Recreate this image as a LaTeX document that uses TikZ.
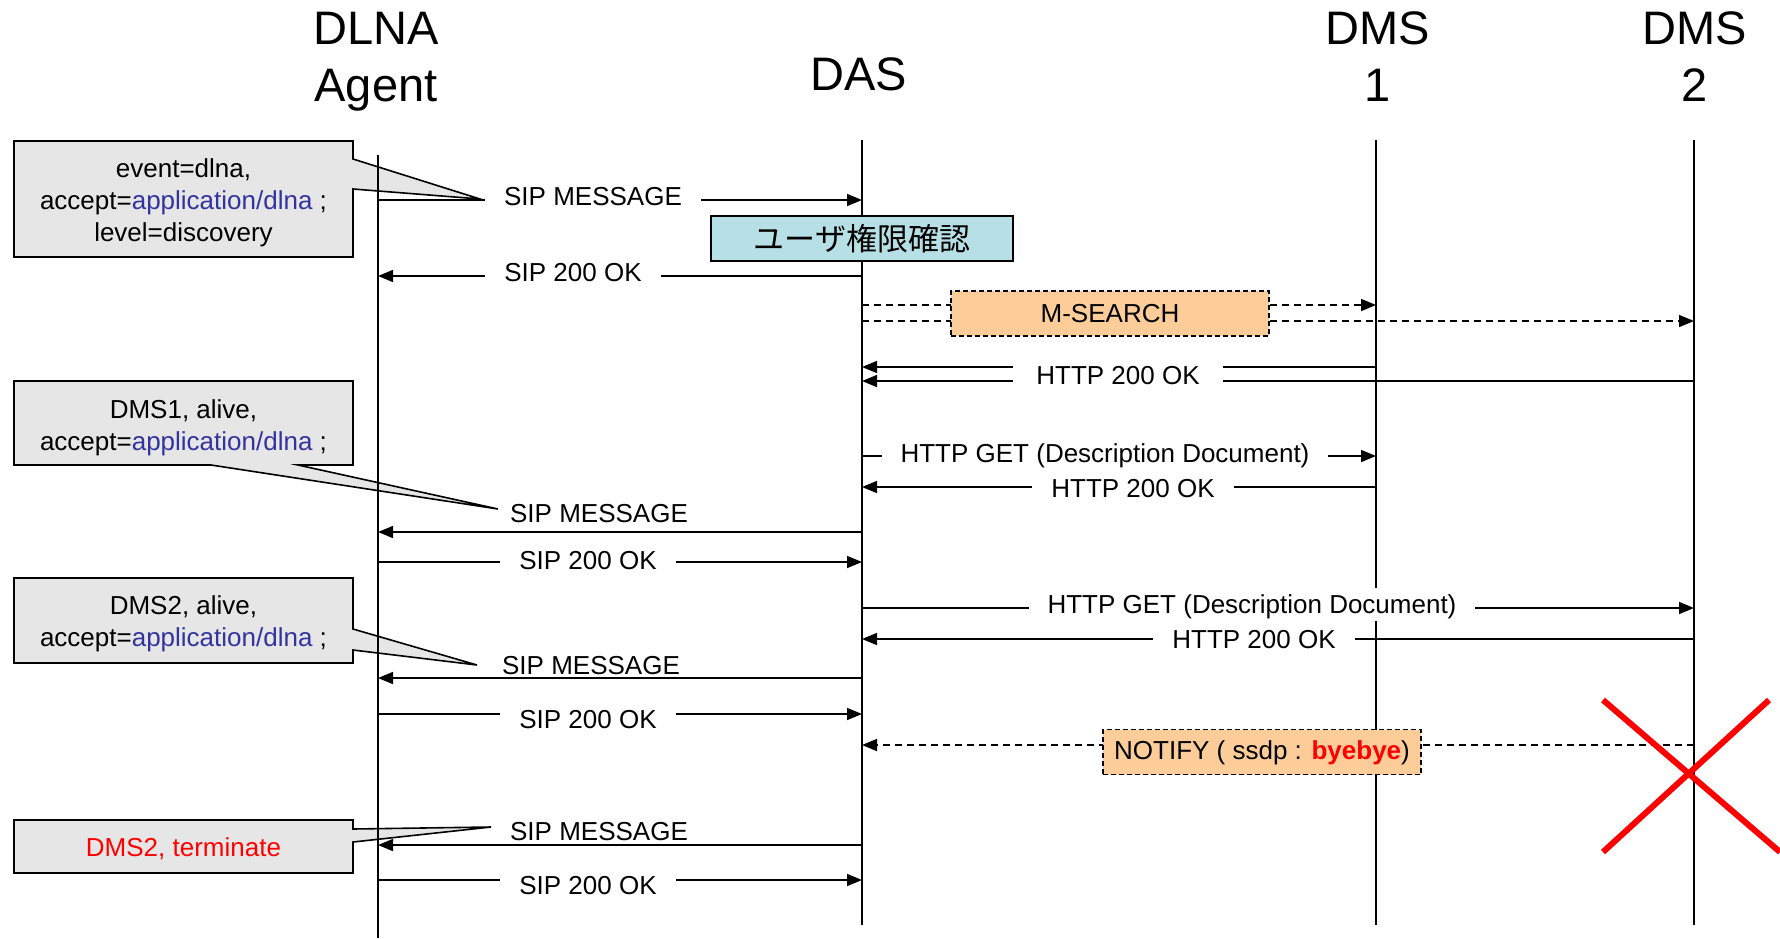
\documentclass[tikz,border=0pt]{standalone}
\usepackage{fontspec}
\setmainfont{Liberation Sans}
\newfontfamily\jpfont{Noto Sans CJK JP}
\usetikzlibrary{arrows.meta}
\definecolor{calloutgray}{RGB}{230,230,230}
\definecolor{appblue}{RGB}{51,51,160}
\definecolor{orangefill}{RGB}{252,204,153}
\definecolor{cyanfill}{RGB}{183,224,230}
\begin{document}
\begin{tikzpicture}[x=1pt,y=-1pt,
  lifeline/.style={line width=1.6pt},
  msg/.style={line width=1.6pt,-{Triangle[length=15pt,width=12pt]}},
  dmsg/.style={msg,dash pattern=on 7pt off 5pt},
  lbl/.style={font=\fontsize{26}{30}\selectfont,text height=19pt,text depth=0pt,inner xsep=19pt,inner ysep=7pt},
  wlbl/.style={lbl,fill=white},
  head/.style={font=\fontsize{47}{57}\selectfont,align=center},
  callout/.style={fill=calloutgray,draw=black,line width=1.6pt},
  ctext/.style={font=\fontsize{26}{32}\selectfont,align=center},
  notebox/.style={draw=black,line width=1.6pt,dash pattern=on 5pt off 3pt,fill=orangefill,minimum width=318pt,minimum height=45pt,font=\fontsize{26}{30}\selectfont},
]
\useasboundingbox (0,0) rectangle (1780,938);

% headers
\node[head] (hAgent) at (376,62) {DLNA\\Agent};
\node[head] (hDAS) at (859,74) {DAS};
\node[head] (hDMS1) at (1378,57) {DMS\\1};
\node[head] (hDMS2) at (1695,57) {DMS\\2};

% callouts
\draw[callout] (14,141) -- (353,141) -- (353,159) -- (480,199) -- (353,189) -- (353,257) -- (14,257) -- cycle;
\node[ctext] (c1) at (183.5,203) {event=dlna,\\accept=\textcolor{appblue}{application/dlna} ;\\level=discovery};
\draw[callout] (14,381) -- (353,381) -- (353,465) -- (298,465) -- (498,509) -- (211,465) -- (14,465) -- cycle;
\node[ctext] (c2) at (183.5,427.5) {DMS1, alive,\\accept=\textcolor{appblue}{application/dlna} ;};
\draw[callout] (14,578) -- (353,578) -- (353,629) -- (477,665) -- (353,650) -- (353,663) -- (14,663) -- cycle;
\node[ctext] (c3) at (183.5,624) {DMS2, alive,\\accept=\textcolor{appblue}{application/dlna} ;};
\draw[callout] (14,820) -- (353,820) -- (353,829) -- (491,827) -- (353,842) -- (353,873) -- (14,873) -- cycle;
\node[ctext,text=red] (c4) at (183.5,849) {DMS2, terminate};

% lifelines
\coordinate (aT) at (378,155); \coordinate (aB) at (378,938);
\coordinate (dT) at (862,140); \coordinate (dB) at (862,925);
\coordinate (s1T) at (1376,140); \coordinate (s1B) at (1376,925);
\coordinate (s2T) at (1694,140); \coordinate (s2B) at (1694,925);
\draw[lifeline] (aT) -- (aB);
\draw[lifeline] (dT) -- (dB);
\draw[lifeline] (s1T) -- (s1B);
\draw[lifeline] (s2T) -- (s2B);

% 1 SIP MESSAGE
\coordinate (y1) at (0,200);
\draw[msg] (aT |- y1) -- (dT |- y1);
\node[wlbl] (l1) at (593,196) {SIP MESSAGE};
% permission check
\node[draw=black,line width=1.6pt,fill=cyanfill,minimum width=302pt,minimum height=45pt,font=\jpfont\fontsize{31}{34}\selectfont] (perm) at (862,238.5) {ユーザ権限確認};
% 2 SIP 200 OK
\coordinate (y2) at (0,276);
\draw[msg] (dT |- y2) -- (aT |- y2);
\node[wlbl] (l2) at (573,272) {SIP 200 OK};
% 3 M-SEARCH
\coordinate (y3a) at (0,305);
\coordinate (y3b) at (0,321);
\draw[dmsg] (dT |- y3a) -- (s1T |- y3a);
\draw[dmsg] (dT |- y3b) -- (s2T |- y3b);
\node[notebox] (msearch) at (1110,313.5) {M-SEARCH};
% 4 HTTP 200 OK x2
\coordinate (y4a) at (0,367);
\coordinate (y4b) at (0,381);
\draw[msg] (s1T |- y4a) -- (dT |- y4a);
\draw[msg] (s2T |- y4b) -- (dT |- y4b);
\node[wlbl,inner xsep=23pt] (l4) at (1118,375) {HTTP 200 OK};
% 5 HTTP GET to DMS1
\coordinate (y5) at (0,456);
\draw[msg] (dT |- y5) -- (s1T |- y5);
\node[wlbl] (l5) at (1105,453) {HTTP GET (Description Document)};
% 6 HTTP 200 OK from DMS1
\coordinate (y6) at (0,487);
\draw[msg] (s1T |- y6) -- (dT |- y6);
\node[wlbl] (l6) at (1133,488) {HTTP 200 OK};
% 7 SIP MESSAGE
\coordinate (y7) at (0,532);
\draw[msg] (dT |- y7) -- (aT |- y7);
\node[lbl] (l7) at (599,513) {SIP MESSAGE};
% 8 SIP 200 OK
\coordinate (y8) at (0,562);
\draw[msg] (aT |- y8) -- (dT |- y8);
\node[wlbl] (l8) at (588,560) {SIP 200 OK};
% 9 HTTP GET to DMS2
\coordinate (y9) at (0,608);
\draw[msg] (dT |- y9) -- (s2T |- y9);
\node[wlbl] (l9) at (1252,604) {HTTP GET (Description Document)};
% 10 HTTP 200 OK from DMS2
\coordinate (y10) at (0,639);
\draw[msg] (s2T |- y10) -- (dT |- y10);
\node[wlbl] (l10) at (1254,639) {HTTP 200 OK};
% 11 SIP MESSAGE
\coordinate (y11) at (0,678);
\draw[msg] (dT |- y11) -- (aT |- y11);
\node[lbl] (l11) at (591,665) {SIP MESSAGE};
% 12 SIP 200 OK
\coordinate (y12) at (0,714);
\draw[msg] (aT |- y12) -- (dT |- y12);
\node[wlbl] (l12) at (588,719) {SIP 200 OK};
% 13 NOTIFY
\coordinate (y13) at (0,745);
\draw[dmsg] (s2T |- y13) -- (dT |- y13);
\node[notebox,inner xsep=4pt,text height=19pt,text depth=5pt] (notify) at (1262,752) {NOTIFY ( ssdp : \textcolor{red}{\bfseries byebye})};
% 14 SIP MESSAGE
\coordinate (y14) at (0,845);
\draw[msg] (dT |- y14) -- (aT |- y14);
\node[lbl] (l14) at (599,831) {SIP MESSAGE};
% 15 SIP 200 OK
\coordinate (y15) at (0,880);
\draw[msg] (aT |- y15) -- (dT |- y15);
\node[wlbl] (l15) at (588,885) {SIP 200 OK};

% red cross
\draw[red,line width=6pt] (1603,700) -- (1780,852);
\draw[red,line width=6pt] (1603,852) -- (1769,700);
\end{tikzpicture}
\end{document}
